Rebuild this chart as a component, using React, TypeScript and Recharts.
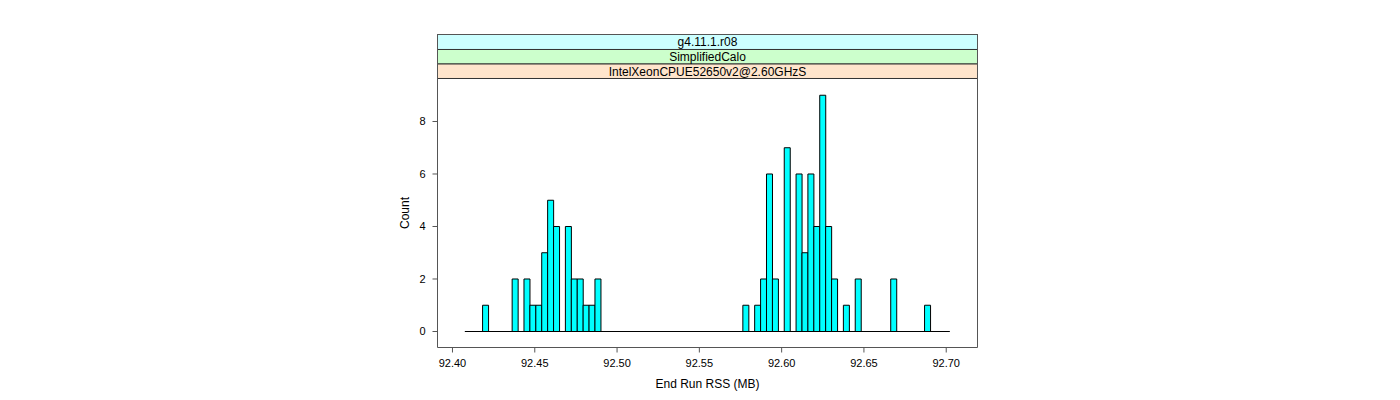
import {
  ComposedChart,
  Bar,
  XAxis,
  YAxis,
  ReferenceArea,
  ReferenceLine,
} from 'recharts'

// histogram bins (mid points, MB) and counts
const binMids = [
  92.42008, 92.43805, 92.44524, 92.44883, 92.45243, 92.45602, 92.45961, 92.46321,
  92.4704, 92.47399, 92.47758, 92.48118, 92.48477, 92.48837,
  92.57822, 92.5854, 92.589, 92.59259, 92.59619, 92.60337, 92.61056, 92.61416,
  92.61775, 92.62134, 92.62494, 92.62853, 92.63213, 92.63931, 92.6465, 92.66807,
  92.68863,
]
const counts = [
  1, 2, 2, 1, 1, 3, 5, 4,
  4, 2, 2, 1, 1, 2,
  1, 1, 2, 6, 2, 7, 6, 3,
  6, 4, 9, 4, 2, 1, 2, 2,
  1,
]
const breaksRange = [92.4075, 92.7022]

const xTicks = [92.4, 92.45, 92.5, 92.55, 92.6, 92.65, 92.7]
const yTicks = [0, 2, 4, 6, 8]

const stripLabels = ['g4.11.1.r08', 'SimplifiedCalo', 'IntelXeonCPUE52650v2@2.60GHzS']
const stripColors = ['#ccffff', '#ccffcc', '#ffe5cc']

// panel limits, strips sit above the panel in y units
const xDomain: [number, number] = [92.3909, 92.719]
const yDomain: [number, number] = [-0.6095, 11.314]
const stripEdges = [11.314, 10.743, 10.19, 9.638]

const data = binMids.map((mid, i) => ({ mid, count: counts[i] }))

const axisColor = '#555'

export default function App() {
  return (
    <div
      style={{
        position: 'absolute',
        left: 0,
        top: 0,
        width: 1400,
        height: 400,
        background: '#fff',
        fontFamily: '"Liberation Sans", Arial, sans-serif',
      }}
    >
      <ComposedChart
        width={1400}
        height={400}
        data={data}
        margin={{ top: 24.5, right: 412.5, bottom: 22.5, left: 397.5 }}
        barCategoryGap={0}
        barGap={0}
      >
        <XAxis
          xAxisId="b"
          dataKey="mid"
          type="number"
          domain={xDomain}
          ticks={xTicks}
          allowDataOverflow
          height={30}
          tickSize={5}
          tickMargin={7}
          stroke={axisColor}
          tick={{ fill: '#000', fontSize: 11 }}
          tickFormatter={(v: number) => v.toFixed(2)}
          label={{ value: 'End Run RSS (MB)', position: 'bottom', offset: 1.5, fill: '#000', fontSize: 12 }}
        />
        <XAxis
          xAxisId="t"
          orientation="top"
          type="number"
          domain={xDomain}
          ticks={xTicks}
          allowDataOverflow
          height={10}
          tickSize={5}
          tick={false}
          stroke={axisColor}
        />
        <YAxis
          yAxisId="l"
          type="number"
          domain={yDomain}
          ticks={yTicks}
          allowDataOverflow
          width={40}
          tickSize={5}
          tickMargin={7}
          stroke={axisColor}
          tick={{ fill: '#000', fontSize: 11 }}
          label={{ value: 'Count', angle: -90, position: 'insideLeft', offset: 7.5, dy: 22, fill: '#000', fontSize: 12, style: { textAnchor: 'middle' } }}
        />
        <YAxis
          yAxisId="r"
          orientation="right"
          type="number"
          domain={yDomain}
          ticks={yTicks}
          allowDataOverflow
          width={10}
          tickSize={5}
          tick={false}
          stroke={axisColor}
        />
        {stripLabels.map((s, i) => (
          <ReferenceArea
            key={s}
            xAxisId="b"
            yAxisId="l"
            x1={xDomain[0]}
            x2={xDomain[1]}
            y1={stripEdges[i + 1]}
            y2={stripEdges[i]}
            fill={stripColors[i]}
            fillOpacity={1}
            stroke="#333"
            strokeWidth={1}
            ifOverflow="visible"
            label={{ value: s, position: 'center', fill: '#000', fontSize: 12 }}
          />
        ))}
        <ReferenceLine
          xAxisId="b"
          yAxisId="l"
          segment={[
            { x: breaksRange[0], y: 0 },
            { x: breaksRange[1], y: 0 },
          ]}
          stroke="#000"
          strokeWidth={1}
        />
        <Bar
          xAxisId="b"
          yAxisId="l"
          dataKey="count"
          fill="#00ffff"
          stroke="#000"
          strokeWidth={1}
          isAnimationActive={false}
        />
      </ComposedChart>
    </div>
  )
}
